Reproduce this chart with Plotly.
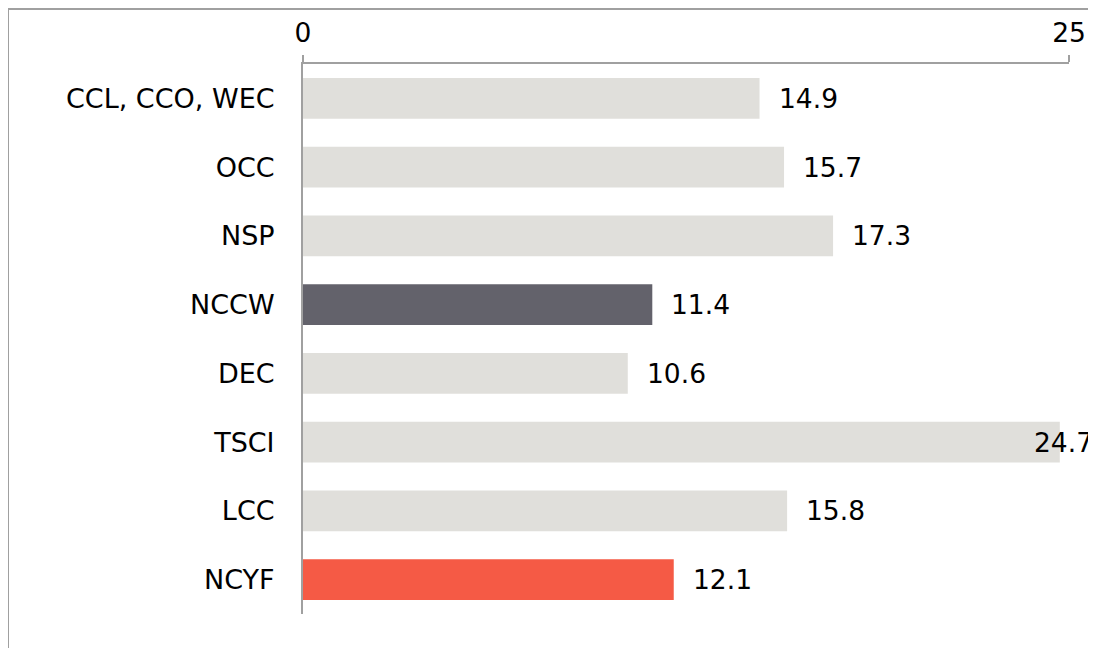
import plotly.graph_objects as go

categories = ["CCL, CCO, WEC", "OCC", "NSP", "NCCW", "DEC", "TSCI", "LCC", "NCYF"]
values = [14.9, 15.7, 17.3, 11.4, 10.6, 24.7, 15.8, 12.1]
bar_colors = ["#e0dfdb", "#e0dfdb", "#e0dfdb", "#63626b", "#e0dfdb", "#e0dfdb", "#e0dfdb", "#f55a45"]
x_ticks = [0, 25]

W, H = 1096, 648
OFF = 8  # page body margin offset
L, T = 303 - OFF, 64 - OFF
pw, ph = 766, 550
R, B = W - L - pw, H - T - ph
FONT = "DejaVu Sans"
FS = 27
VFS = 26.5
LINE = "#a0a0a0"

fig = go.Figure(go.Bar(
    x=values, y=categories, orientation="h",
    marker=dict(color=bar_colors, line=dict(width=0)),
    width=0.59, hoverinfo="skip",
))

annotations = []
for c, v in zip(categories, values):
    px_end = (v / 25) * pw + 17 + 60
    if px_end <= (W - OFF) - L:
        annotations.append(dict(x=v, y=c, xref="x", yref="y", text=f"{v}",
                                xanchor="left", xshift=17, showarrow=False,
                                font=dict(family=FONT, size=VFS, color="#000")))
    else:
        annotations.append(dict(x=((W - OFF) - L - 1) / pw, y=c, xref="paper", yref="y", text=f"{v}",
                                xanchor="right", showarrow=False,
                                font=dict(family=FONT, size=VFS, color="#000")))

fig.update_layout(
    width=W, height=H, autosize=False,
    margin=dict(l=L, r=R, t=T, b=B, pad=0, autoexpand=False),
    paper_bgcolor="white", plot_bgcolor="white",
    showlegend=False,
    font=dict(family=FONT, size=FS, color="#000"),
    annotations=annotations,
    xaxis=dict(side="top", range=[0, 25], tickvals=x_ticks, ticks="outside", ticklen=7,
               tickcolor=LINE, tickwidth=2, showline=True, linecolor=LINE, linewidth=2,
               showgrid=False, zeroline=False, ticklabelstandoff=2, automargin=False,
               tickfont=dict(family=FONT, size=VFS, color="#000")),
    yaxis=dict(autorange=False, range=[7.5, -0.5], showline=True, linecolor=LINE, linewidth=2,
               ticks="", showgrid=False, zeroline=False, ticklabelstandoff=21, automargin=False,
               tickfont=dict(family=FONT, size=FS, color="#000")),
    shapes=[dict(type="rect", xref="paper", yref="paper",
                 x0=(0 - L) / pw, x1=1 + (R + 20) / pw,
                 y0=-(B + 20) / ph, y1=1 + (T - 1) / ph,
                 line=dict(color=LINE, width=2), layer="below")],
)

fig.write_html("out.html")
